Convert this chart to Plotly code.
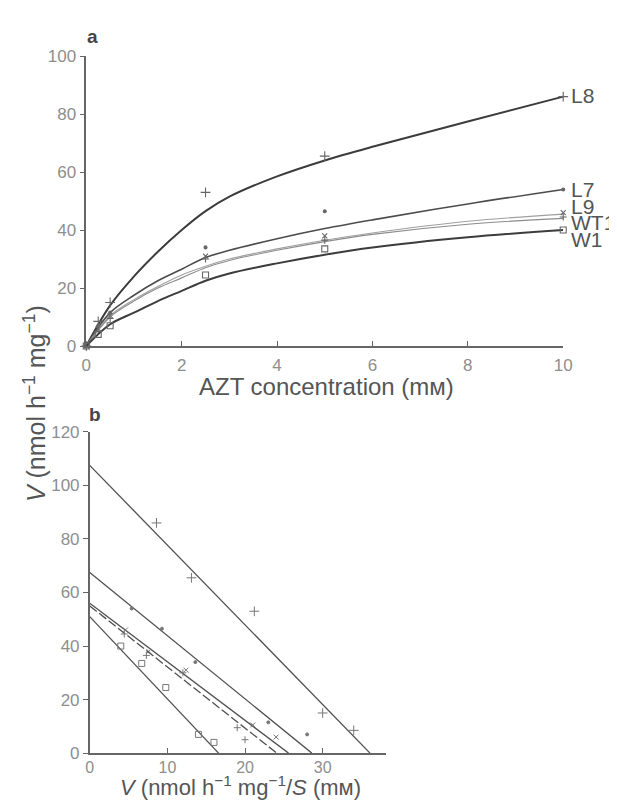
import plotly.graph_objects as go

W, H = 617, 801

# ---------------- data ----------------
series_names = ["L8", "L7", "L9", "WT1", "W1"]

# Panel a: measured points (AZT concentration, mM) and rates
conc_points = [0, 0.25, 0.5, 2.5, 5, 10]
rate_L8 = [0, 8.5, 15, 53, 65.5, 86]
rate_L7 = [0, 7, 11.5, 34, 46.5, 54]
rate_L9 = [0, 6, 10.5, 31, 38, 46]
rate_WT1 = [0, 5, 9.5, 30, 36.5, 44.5]
rate_W1 = [0, 4, 7, 24.5, 33.5, 40]

# Panel a: fitted curves
conc_curve = [0, 0.5, 1, 1.5, 2, 2.5, 3, 4, 5, 6, 8, 10]
curve_L8 = [0, 14, 24, 32.5, 40, 46.5, 51.5, 58.5, 64, 68.7, 77.4, 86]
curve_L7 = [0, 11.5, 17.5, 22.5, 26.5, 30.5, 33, 37, 40.5, 43.5, 49, 54]
curve_L9 = [0, 10.5, 16, 20.5, 24.5, 27.5, 30, 33.5, 36.5, 39, 43, 45.5]
curve_WT1 = [0, 10, 15.5, 20, 23.5, 27, 29.5, 33, 36, 38.5, 42, 44]
curve_W1 = [0, 7.5, 11.5, 15.5, 19, 22.5, 25, 28.5, 31.5, 34, 37.5, 40]

# Panel b: Eadie-Hofstee fitted lines (V intercept, V/S intercept)
vmax_intercepts = [107.5, 67.5, 56, 55, 51]
vs_intercepts = [36.1, 28.6, 25.6, 24.1, 16.6]

xticks_a = [0, 2, 4, 6, 8, 10]
yticks_a = [0, 20, 40, 60, 80, 100]
xticks_b = [0, 10, 20, 30]
yticks_b = [0, 20, 40, 60, 80, 100, 120]

# ---------------- styles ----------------
points = [rate_L8, rate_L7, rate_L9, rate_WT1, rate_W1]
curves = [curve_L8, curve_L7, curve_L9, curve_WT1, curve_W1]
line_colors = ["#3c3c3c", "#4c4c4c", "#a0a0a0", "#8c8c8c", "#3c3c3c"]
line_widths = [2.0, 1.6, 1.1, 1.1, 2.0]
marker_symbols = ["cross-thin", "circle", "x-thin", "cross-thin", "square-open"]
marker_sizes = [7, 3, 5, 5, 6]
b_dash = ["solid", "solid", "solid", "9px,3px", "solid"]
label_y_px = [80, 177, 194, 211, 228]

fig = go.Figure()

for i, name in enumerate(series_names):
    fig.add_trace(go.Scatter(
        x=conc_curve, y=curves[i], mode="lines", line_shape="spline",
        line=dict(color=line_colors[i], width=line_widths[i], smoothing=1.0),
        xaxis="x", yaxis="y", showlegend=False, cliponaxis=False, hoverinfo="skip"))
    fig.add_trace(go.Scatter(
        x=conc_points, y=points[i], mode="markers",
        marker=dict(symbol=marker_symbols[i], size=marker_sizes[i], color="#666666",
                    line=dict(color="#666666", width=1.1)),
        xaxis="x", yaxis="y", showlegend=False, cliponaxis=False, name=name))

# Panel b
for i, name in enumerate(series_names):
    fig.add_trace(go.Scatter(
        x=[0, vs_intercepts[i]], y=[vmax_intercepts[i], 0], mode="lines",
        line=dict(color="#505050", width=1.3, dash=b_dash[i]),
        xaxis="x2", yaxis="y2", showlegend=False, cliponaxis=False, hoverinfo="skip"))
    vs = [v / s for v, s in zip(points[i], conc_points) if s > 0]
    vv = [v for v, s in zip(points[i], conc_points) if s > 0]
    fig.add_trace(go.Scatter(
        x=vs, y=vv, mode="markers",
        marker=dict(symbol=marker_symbols[i], size=marker_sizes[i], color="#777777",
                    line=dict(color="#777777", width=1.0)),
        xaxis="x2", yaxis="y2", showlegend=False, cliponaxis=False, name=name))

FONT = "Liberation Sans"
tickfont = dict(family=FONT, size=17, color="#8e8e8e")
axis_common = dict(showline=True, linecolor="#666666", linewidth=1.5, showgrid=False,
                   zeroline=False, tickcolor="#666666", ticklen=5, tickwidth=1.2,
                   tickmode="array")

def px_x(px):
    return px / W

def px_y(py):
    return 1 - py / H

fig.update_layout(
    width=W, height=H, margin=dict(l=0, r=0, t=0, b=0),
    paper_bgcolor="white", plot_bgcolor="rgba(0,0,0,0)",
    xaxis=dict(domain=[px_x(75), px_x(563)], range=[0, 10], anchor="y",
               tickvals=xticks_a, ticks="inside", ticklabelstandoff=3,
               tickfont=tickfont, **axis_common),
    yaxis=dict(domain=[px_y(337), px_y(40)], range=[0, 100], anchor="x",
               tickvals=yticks_a, ticks="outside", tickfont=tickfont, **axis_common),
    xaxis2=dict(domain=[px_x(78.5), px_x(382)], range=[0, 38.2], anchor="y2",
                tickvals=xticks_b, ticks="inside", ticklabelstandoff=-1,
                tickfont=dict(family=FONT, size=16, color="#8e8e8e"), **axis_common),
    yaxis2=dict(domain=[px_y(754), px_y(425)], range=[0, 120], anchor="x2",
                tickvals=yticks_b, ticks="outside", tickfont=tickfont, **axis_common),
)

ann = []
for i, name in enumerate(series_names):
    ann.append(dict(x=px_x(569), y=px_y(label_y_px[i]), xref="paper", yref="paper",
                    text=name, showarrow=False, xanchor="left", yanchor="middle",
                    font=dict(family=FONT, size=21, color="#555555")))
ann += [
    dict(x=px_x(74), y=px_y(20), text="<b>a</b>", xref="paper", yref="paper",
         showarrow=False, xanchor="left", yanchor="middle",
         font=dict(family=FONT, size=19, color="#444444")),
    dict(x=px_x(76), y=px_y(407), text="<b>b</b>", xref="paper", yref="paper",
         showarrow=False, xanchor="left", yanchor="middle",
         font=dict(family=FONT, size=19, color="#444444")),
    dict(x=px_x(321), y=px_y(378), text="AZT concentration (mм)", xref="paper", yref="paper",
         showarrow=False, xanchor="center", yanchor="middle",
         font=dict(family=FONT, size=24, color="#555555")),
    dict(x=px_x(233), y=px_y(801), yanchor="bottom",
         text="<i>V</i> (nmol h<sup>−1</sup> mg<sup>−1</sup>/<i>S</i> (mм)",
         xref="paper", yref="paper", showarrow=False, xanchor="center",
         yshift=-3, font=dict(family=FONT, size=22, color="#555555")),
    dict(x=px_x(22), y=px_y(396),
         text="<i>V</i> (nmol h<sup>−1</sup> mg<sup>−1</sup>)",
         xref="paper", yref="paper", showarrow=False, xanchor="center", yanchor="middle",
         textangle=-90, font=dict(family=FONT, size=25, color="#555555")),
]
fig.update_layout(annotations=ann)

fig.write_html("out.html")
